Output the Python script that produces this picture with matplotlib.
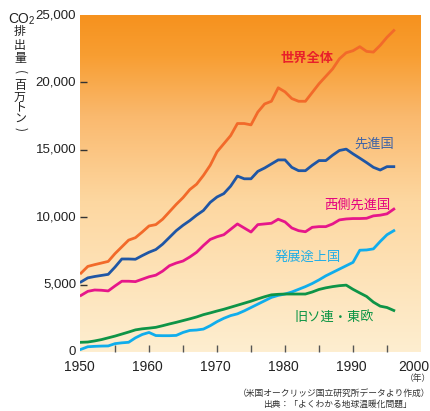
import matplotlib
matplotlib.use("Agg")
import matplotlib.pyplot as plt
import numpy as np
from matplotlib.colors import LinearSegmentedColormap

years = list(range(1950, 1997))

world = [5850, 6350, 6480, 6600, 6720, 7300, 7800, 8300, 8480, 8900,
         9350, 9450, 9850, 10400, 10950, 11450, 12050, 12450, 13100, 13850,
         14850, 15450, 16050, 16950, 16950, 16850, 17800, 18400, 18600, 19600,
         19300, 18800, 18600, 18600, 19250, 19900, 20450, 21000, 21750, 22200,
         22350, 22650, 22300, 22250, 22750, 23350, 23850]

developed = [5200, 5500, 5600, 5680, 5760, 6300, 6900, 6900, 6880, 7150,
             7400, 7600, 8000, 8500, 9000, 9400, 9750, 10150, 10500, 11100,
             11500, 11750, 12300, 13050, 12850, 12850, 13400, 13650, 13950, 14250,
             14250, 13700, 13450, 13450, 13850, 14200, 14200, 14600, 14950, 15050,
             14700, 14380, 14050, 13700, 13500, 13750, 13750]

western = [4200, 4500, 4600, 4580, 4530, 4900, 5250, 5250, 5220, 5400,
           5580, 5700, 6000, 6400, 6600, 6750, 7050, 7400, 7900, 8350,
           8550, 8700, 9100, 9500, 9200, 8900, 9450, 9500, 9550, 9850,
           9650, 9200, 9000, 8920, 9250, 9300, 9300, 9500, 9800, 9870,
           9900, 9900, 9920, 10100, 10150, 10250, 10600]

developing = [200, 390, 420, 440, 450, 620, 680, 720, 1050, 1300,
              1450, 1220, 1210, 1210, 1230, 1450, 1600, 1630, 1700, 1950,
              2250, 2500, 2700, 2830, 3050, 3300, 3550, 3800, 4050, 4200,
              4300, 4450, 4650, 4850, 5080, 5350, 5650, 5900, 6150, 6400,
              6650, 7550, 7570, 7650, 8200, 8700, 9000]

ussr_east = [720, 740, 820, 920, 1050, 1180, 1330, 1480, 1640, 1720,
             1770, 1830, 1950, 2080, 2200, 2330, 2460, 2600, 2770, 2900,
             3040, 3170, 3320, 3470, 3620, 3770, 3940, 4100, 4240, 4280,
             4300, 4300, 4300, 4300, 4450, 4640, 4760, 4850, 4920, 4960,
             4650, 4380, 4120, 3700, 3400, 3300, 3080]

series_labels = ["世界全体", "先進国", "西側先進国", "発展途上国", "旧ソ連・東欧"]
yticks = [0, 5000, 10000, 15000, 20000, 25000]
ytick_labels = ["0", "5,000", "10,000", "15,000", "20,000", "25,000"]
xticks_major = [1950, 1960, 1970, 1980, 1990, 2000]
xticks_minor = [1955, 1960, 1965, 1970, 1975, 1980, 1985, 1990, 1995]

cjk = ['Noto Sans CJK JP', 'DejaVu Sans']
num_font = ['Liberation Sans Narrow', 'Liberation Sans', 'DejaVu Sans']

W, H = 431, 411
fig = plt.figure(figsize=(W / 100, H / 100), dpi=100)
ax = fig.add_axes([80 / W, (H - 352) / H, (421 - 80) / W, (352 - 15) / H])
ax.set_xlim(1949.85, 2000)
ax.set_ylim(0, 25000)

# background gradient
stops = [(0.0, (254/255, 238/255, 208/255)),
         (0.45, (253/255, 215/255, 160/255)),
         (0.7, (250/255, 185/255, 110/255)),
         (0.88, (248/255, 158/255, 50/255)),
         (1.0, (246/255, 146/255, 30/255))]
cmap = LinearSegmentedColormap.from_list("bg", stops)
grad = np.linspace(0, 1, 256).reshape(-1, 1)
ax.imshow(grad, cmap=cmap, aspect='auto', origin='lower',
          extent=[1949.85, 2000, 0, 25000], zorder=0)

lw = 2.0
ax.plot(years, world, color='#f26a2a', lw=lw, zorder=3)
ax.plot(years, developed, color='#1f56a5', lw=lw, zorder=3)
ax.plot(years, western, color='#e6168a', lw=lw, zorder=3)
ax.plot(years, developing, color='#10adec', lw=lw, zorder=3)
ax.plot(years, ussr_east, color='#0e9447', lw=lw, zorder=3)

for s in ax.spines.values():
    s.set_visible(False)

ax.set_yticks(yticks[1:-1])
ax.set_yticklabels([])
ax.tick_params(axis='y', direction='in', length=5, width=1, color='#333333', pad=0)
ax.set_xticks(xticks_minor)
ax.set_xticklabels([])
ax.tick_params(axis='x', direction='in', length=5, width=1, color='#555555')

# tick labels as text
for v, lab in zip(yticks, ytick_labels):
    ax.text(1949.3, v, lab, ha='right', va='center', fontsize=9.5,
            family=num_font, color='#222222', clip_on=False)
for v in xticks_major:
    xpos = v - 0.3 if v < 2000 else v - 1.0
    ax.text(xpos, -1100, str(v), ha='center', va='center', fontsize=10,
            family=num_font, color='#222222', clip_on=False)

# series labels
ax.text(1983.3, 21800, series_labels[0], color='#e8202a', fontsize=9.5,
        fontweight='bold', family=cjk, ha='center', va='center')
ax.text(1993.2, 15400, series_labels[1], color='#3d63a8', fontsize=9.5,
        family=cjk, ha='center', va='center')
ax.text(1990.7, 10900, series_labels[2], color='#e4007f', fontsize=9.5,
        family=cjk, ha='center', va='center')
ax.text(1983.3, 7000, series_labels[3], color='#22aee6', fontsize=9.5,
        family=cjk, ha='center', va='center')
ax.text(1987.3, 2500, series_labels[4], color='#0a9444', fontsize=9.5,
        family=cjk, ha='center', va='center')

# y-axis title: CO2 then vertical text
fig.text(8 / W, 1 - 19 / H, "CO", fontsize=10, family=num_font, color='#222222',
         ha='left', va='center')
fig.text(29 / W, 1 - 20.5 / H, "2", fontsize=7, family=num_font, color='#222222',
         ha='left', va='center')
vchars = ["排", "出", "量", "(", "百", "万", "ト", "ン", ")"]
vrot = [0, 0, 0, -90, 0, 0, 0, 0, -90]
vy = [32, 45, 58, 72, 85, 97, 108, 118, 129]
for ch, yy, rot in zip(vchars, vy, vrot):
    fig.text(20 / W, 1 - yy / H, ch, fontsize=8.6, family=cjk, color='#222222',
             ha='center', va='center', rotation=rot)

fig.text(418 / W, 1 - 378 / H, "（年）", fontsize=6.3, family=cjk, color='#333333',
         ha='center', va='center')
fig.text(430 / W, 1 - 393 / H, "（米国オークリッジ国立研究所データより作成）",
         fontsize=6.3, family=cjk, color='#333333', ha='right', va='center')
fig.text(263 / W, 1 - 404 / H, "出典：「よくわかる地球温暖化問題」",
         fontsize=6.3, family=cjk, color='#333333', ha='left', va='center')

fig.savefig("out.png", dpi=100, facecolor='white')
